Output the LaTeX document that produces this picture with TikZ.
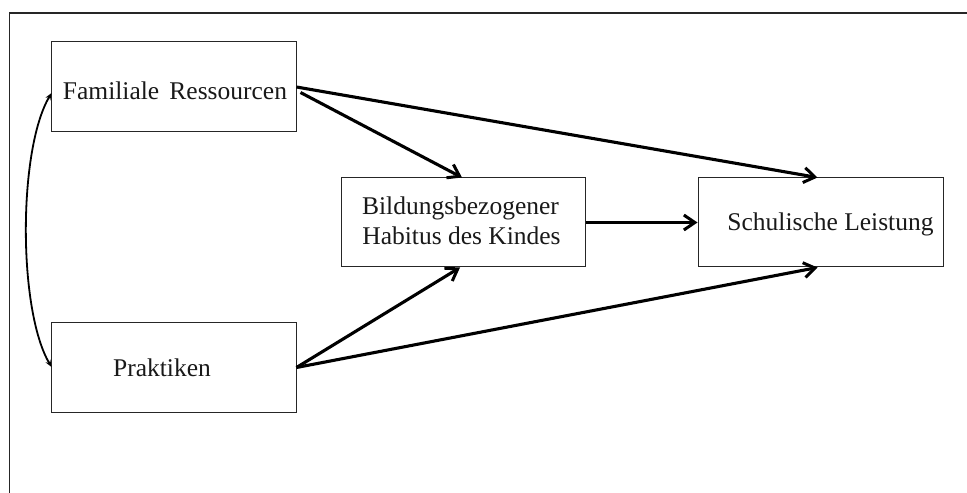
\documentclass[tikz,border=0pt]{standalone}
\usepackage{fontspec}
\setmainfont{Liberation Serif}
\usetikzlibrary{arrows.meta,calc}
\tikzset{
  box/.style={draw=black!85, line width=1bp, minimum width=244bp, minimum height=90bp, inner sep=0pt, fill=white},
  lbl/.style={anchor=base, inner sep=0pt, text=black!90, font=\fontsize{25.5bp}{30bp}\selectfont},
  conn/.style={line width=3.1bp, black, -{Straight Barb[length=11bp, width=15bp, line width=3bp]}},
  corr/.style={line width=1.8bp, black, {Stealth[length=7bp, width=5.5bp]}-{Stealth[length=7bp, width=5.5bp]}},
  frame/.style={line width=1.4bp, black!85}
}
\begin{document}
\begin{tikzpicture}[x=1bp, y=-1bp]
\useasboundingbox (0,0) rectangle (967,493);
\coordinate (ftl) at (9.5,493);
\coordinate (fcorner) at (9.5,13);
\coordinate (ftr) at (967,13);
\draw[frame] (ftl) -- (fcorner) -- (ftr);

\node[box] (fr) at (174,86.5) {};
\node[box] (pr) at (174,367.5) {};
\node[box, minimum height=89bp] (hb) at (463,222.5) {};
\node[box, minimum height=89bp, minimum width=245bp] (sl) at (820.5,222.5) {};

\node[lbl] (frt) at (175,100) {Familiale\hspace{0.4em}Ressourcen};
\node[lbl] (prt) at (162,377) {Praktiken};
\node[lbl] (hbt1) at (460.5,215) {Bildungsbezogener};
\node[lbl] (hbt2) at (461.5,245) {Habitus des Kindes};
\node[lbl] (slt) at (830.5,231) {Schulische Leistung};

\draw[conn] ($(fr.east)+(0,0.5)$) -- ($(sl.north)+(-3,0)$);
\draw[conn] ($(fr.east)+(4,6)$) -- ($(hb.north)+(-1,0)$);
\draw[conn] (hb.east) -- (sl.west);
\draw[conn] (pr.east) -- ($(hb.south)+(-3,0)$);
\draw[conn] (pr.east) -- ($(sl.south)+(-3,0)$);

\draw[corr] ($(fr.west)+(0,6.5)$) .. controls (18,150) and (18,310) .. ($(pr.west)+(0,-0.5)$);
\end{tikzpicture}
\end{document}
